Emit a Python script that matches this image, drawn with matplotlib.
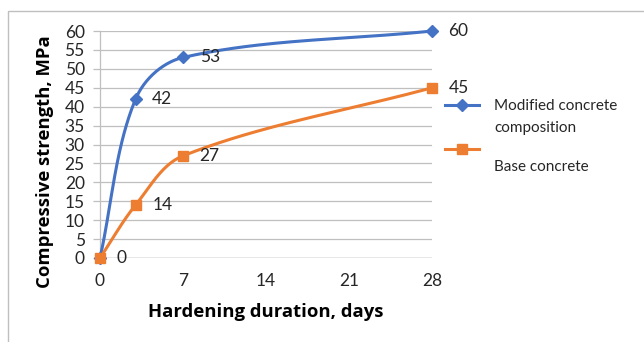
import numpy as np
import matplotlib.pyplot as plt
from matplotlib.patches import Rectangle
from matplotlib.lines import Line2D

# ======================================
# DATA
# ======================================
days = [0, 3, 7, 28]
modified = [0, 42, 53, 60]
base = [0, 14, 27, 45]
x_ticks = [0, 7, 14, 21, 28]
y_ticks = list(range(0, 65, 5))
series_names = ["Modified concrete\ncomposition", "Base concrete"]

BLUE = "#4472C4"
ORANGE = "#ED7D31"
TXT = "#262626"
plt.rcParams["font.family"] = ["Lato", "DejaVu Sans"]


def smooth(ax, xs, ys, n=60):
    # smoothed line like Excel: cubic Bezier through the points,
    # tangent from neighbours, handle = 1/3 of the segment (screen space)
    p = ax.transData.transform(np.column_stack([xs, ys]).astype(float))
    m = len(p)
    tang = []
    for i in range(m):
        d = p[min(i + 1, m - 1)] - p[max(i - 1, 0)]
        tang.append(d / np.linalg.norm(d))
    t = np.linspace(0, 1, n)[:, None]
    out = []
    for i in range(m - 1):
        p1, p2 = p[i], p[i + 1]
        h = np.linalg.norm(p2 - p1) / 3
        c1 = p1 + tang[i] * h
        c2 = p2 - tang[i + 1] * h
        seg = ((1 - t) ** 3) * p1 + 3 * ((1 - t) ** 2) * t * c1 \
            + 3 * (1 - t) * t ** 2 * c2 + t ** 3 * p2
        out.append(seg)
    seg = ax.transData.inverted().transform(np.vstack(out))
    return seg[:, 0], seg[:, 1]


fig = plt.figure(figsize=(6.44, 3.42), dpi=100)
fig.patches.append(Rectangle((8 / 644, -0.1), 1.2, 1 - 11 / 342 + 0.1,
                             transform=fig.transFigure, fill=False,
                             edgecolor="#BFBFBF", linewidth=1))

ax = fig.add_axes([100 / 644, 1 - 258 / 342, 332 / 644, 227 / 342])
ax.set_xlim(0, 28)
ax.set_ylim(0, 60)

for yv in y_ticks[1:]:
    ax.axhline(yv, color="#BFBFBF", linewidth=0.9, zorder=0)
ax.axhline(0, color="#868686", linewidth=1.0, zorder=1)

for s in ax.spines.values():
    s.set_visible(False)
ax.spines["left"].set_visible(True)
ax.spines["left"].set_color("#BFBFBF")
ax.spines["left"].set_linewidth(0.9)

sx, sy = smooth(ax, days, modified)
ax.plot(sx, sy, color=BLUE, linewidth=2.2, clip_on=False, zorder=3)
ax.plot(days, modified, linestyle="none", marker="D", markersize=6,
        color=BLUE, clip_on=False, zorder=4)
sx, sy = smooth(ax, days, base)
ax.plot(sx, sy, color=ORANGE, linewidth=2.2, clip_on=False, zorder=3)
ax.plot(days, base, linestyle="none", marker="s", markersize=7,
        color=ORANGE, clip_on=False, zorder=5)

# data labels (first blue "0" is hidden under the orange one)
for x, y in zip(days[1:], modified[1:]):
    ax.text(x + 1.4, y, str(y), fontsize=12.5, va="center", ha="left",
            color=TXT, clip_on=False)
for x, y in zip(days, base):
    ax.text(x + 1.4, y, str(y), fontsize=12.5, va="center", ha="left",
            color=TXT, clip_on=False)

ax.set_xticks(x_ticks)
ax.set_yticks(y_ticks)
ax.tick_params(axis="x", length=0, labelsize=12.5, labelcolor=TXT, pad=11)
ax.tick_params(axis="y", length=5, width=0.9, color="#BFBFBF",
               labelsize=12.5, labelcolor=TXT, pad=6)
ax.set_xlabel("Hardening duration, days", fontsize=13.3, fontweight="bold",
              family=["Open Sans", "DejaVu Sans"], va="center")
ax.set_ylabel("Compressive strength, MPa", fontsize=13.3, fontweight="bold",
              family=["Open Sans", "DejaVu Sans"], va="center")
ax.xaxis.set_label_coords(0.50, -0.238)
ax.yaxis.set_label_coords(-0.166, 0.423)

# legend drawn by hand to keep Excel's layout
for (yl, yt), color, mk, ms, name in zip([(105, 104), (149, 165)],
                                          [BLUE, ORANGE], ["D", "s"], [6, 7],
                                          series_names):
    fig.lines.append(Line2D([445 / 644, 479 / 644], [1 - yl / 342] * 2,
                            transform=fig.transFigure, color=color,
                            linewidth=2.2))
    fig.lines.append(Line2D([462 / 644], [1 - yl / 342],
                            transform=fig.transFigure, color=color,
                            marker=mk, markersize=ms))
    fig.text(494 / 644, 1 - (yt - 5) / 342, name, fontsize=11, color=TXT,
             va="top", ha="left", linespacing=1.75)

plt.savefig("out.png", dpi=100)
